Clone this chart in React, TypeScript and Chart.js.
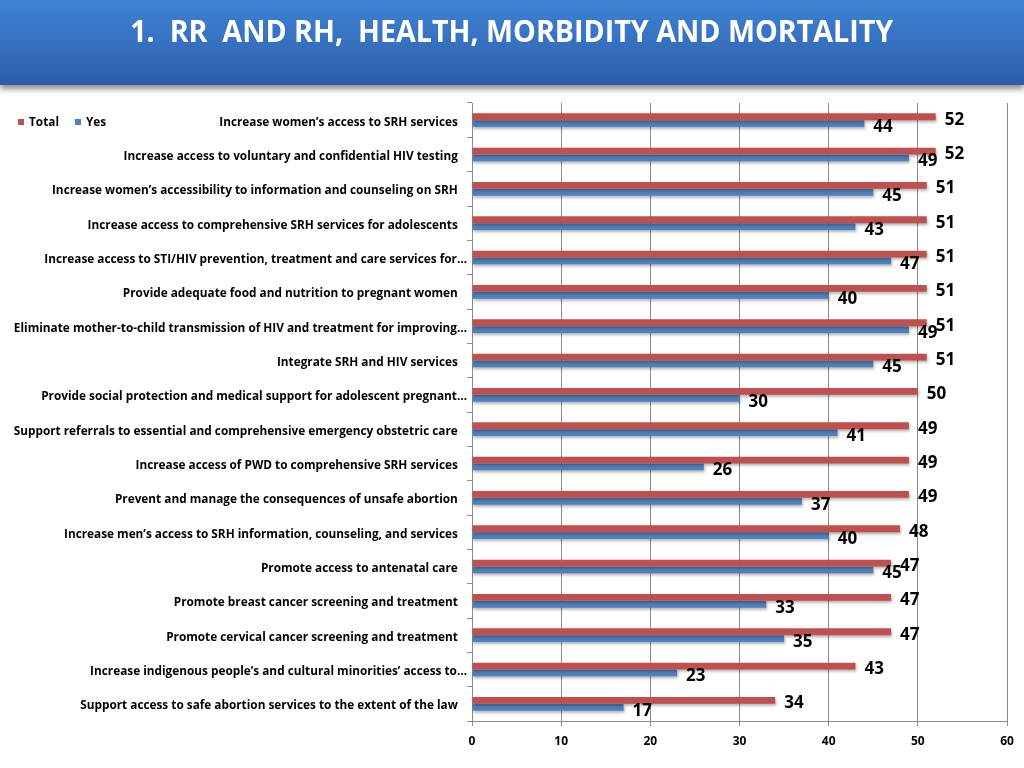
import React, { useEffect, useRef } from "react";
import { Chart, registerables } from "chart.js";

Chart.register(...registerables);

const categories: string[] = [
  "Increase women’s access to SRH services",
  "Increase access to voluntary and confidential HIV testing",
  "Increase women’s accessibility to information and counseling on SRH",
  "Increase access to comprehensive SRH services for adolescents",
  "Increase access to STI/HIV prevention, treatment and care services for…",
  "Provide adequate food and nutrition to pregnant women",
  "Eliminate mother-to-child transmission of HIV and treatment for improving…",
  "Integrate SRH and HIV services",
  "Provide social protection and medical support for adolescent pregnant…",
  "Support referrals to essential and comprehensive emergency obstetric care",
  "Increase access of PWD to comprehensive SRH services",
  "Prevent and manage the consequences of unsafe abortion",
  "Increase men’s access to SRH information, counseling, and services",
  "Promote access to antenatal care",
  "Promote breast cancer screening and treatment",
  "Promote cervical cancer screening and treatment",
  "Increase indigenous people’s and cultural minorities’ access to…",
  "Support access to safe abortion services to the extent of the law",
];

const totalValues: number[] = [52, 52, 51, 51, 51, 51, 51, 51, 50, 49, 49, 49, 48, 47, 47, 47, 43, 34];
const yesValues: number[] = [44, 49, 45, 43, 47, 40, 49, 45, 30, 41, 26, 37, 40, 45, 33, 35, 23, 17];

const xTicks: number[] = [0, 10, 20, 30, 40, 50, 60];

const TITLE = "1.  RR  AND RH,  HEALTH, MORBIDITY AND MORTALITY";

const RED = "#c0504d";
const BLUE = "#4f81bd";
const FONT = "'Open Sans', 'Liberation Sans', Arial, sans-serif";

const shadowPlugin = {
  id: "barShadow",
  beforeDatasetsDraw(chart: any) {
    const ctx = chart.ctx;
    ctx.save();
    ctx.shadowColor = "rgba(0,0,0,0.3)";
    ctx.shadowOffsetX = 1;
    ctx.shadowOffsetY = 2;
    ctx.shadowBlur = 3;
  },
  afterDatasetsDraw(chart: any) {
    chart.ctx.restore();
  },
};

const labelPlugin = {
  id: "valueLabels",
  afterDraw(chart: any) {
    const ctx = chart.ctx;
    ctx.save();
    ctx.fillStyle = "#000";
    ctx.font = `bold 17px ${FONT}`;
    ctx.textBaseline = "middle";
    ctx.textAlign = "left";
    chart.data.datasets.forEach((ds: any, di: number) => {
      const meta = chart.getDatasetMeta(di);
      meta.data.forEach((el: any, i: number) => {
        const v = ds.data[i];
        const dy = di === 0 ? 3 : 3.5;
        ctx.fillText(String(v), el.x + 9, el.y + dy);
      });
    });
    // legend
    ctx.font = `bold 11.8px ${FONT}`;
    const ly = 122 - 85;
    ctx.fillStyle = RED;
    ctx.fillRect(18, ly - 3, 6, 6);
    ctx.fillStyle = "#000";
    ctx.fillText("Total", 29, ly + 1);
    ctx.fillStyle = BLUE;
    ctx.fillRect(75, ly - 3, 6, 6);
    ctx.fillStyle = "#000";
    ctx.fillText("Yes", 86, ly + 1);
    ctx.restore();
  },
};

export default function App() {
  const ref = useRef<HTMLCanvasElement | null>(null);
  const titleRef = useRef<HTMLSpanElement | null>(null);

  useEffect(() => {
    const t = titleRef.current;
    if (t) {
      const w = t.getBoundingClientRect().width;
      if (w > 0) t.style.transform = `scaleX(${763 / w})`;
    }
  }, []);

  useEffect(() => {
    if (!ref.current) return;
    const chart = new Chart(ref.current, {
      type: "bar",
      data: {
        labels: categories,
        datasets: [
          {
            label: "Total",
            data: totalValues,
            backgroundColor: RED,
            categoryPercentage: 0.4,
            barPercentage: 1.0,
          },
          {
            label: "Yes",
            data: yesValues,
            backgroundColor: BLUE,
            categoryPercentage: 0.4,
            barPercentage: 1.0,
          },
        ],
      },
      options: {
        indexAxis: "y",
        animation: false,
        responsive: true,
        maintainAspectRatio: false,
        layout: { padding: { top: 18, right: 17, bottom: 17, left: 0 } },
        plugins: {
          legend: { display: false },
          tooltip: { enabled: false },
        },
        scales: {
          x: {
            min: xTicks[0],
            max: xTicks[xTicks.length - 1],
            afterBuildTicks(scale: any) {
              scale.ticks = xTicks.map((v) => ({ value: v }));
            },
            afterFit(scale: any) {
              scale.height = 30;
            },
            grid: { color: "#8c8c8c", lineWidth: 1, tickLength: 5 },
            border: { color: "#8c8c8c" },
            ticks: {
              color: "#000",
              padding: 8,
              font: { family: FONT, size: 12, weight: "bold" },
            },
          },
          y: {
            afterFit(scale: any) {
              scale.width = 472;
            },
            grid: { drawOnChartArea: false, offset: true, tickLength: 5, color: "#8c8c8c" },
            border: { color: "#8c8c8c" },
            ticks: {
              color: "#000",
              padding: 0,
              labelOffset: 2,
              autoSkip: false,
              font: { family: FONT, size: 11.8, weight: "bold" },
              callback(this: any, value: any) {
                const lbl = categories[value as number];
                return lbl.endsWith("…") ? lbl : lbl + "   ";
              },
            },
          },
        },
      },
      plugins: [shadowPlugin, labelPlugin],
    });
    return () => chart.destroy();
  }, []);

  return (
    <div style={{ position: "fixed", left: 0, top: 0, width: 1024, height: 768, background: "#fff", overflow: "hidden" }}>
      <div
        style={{
          position: "absolute",
          left: 0,
          top: 0,
          width: 1024,
          height: 85,
          background: "linear-gradient(to bottom, #3f82d2 0%, #3671c0 50%, #2c5ea7 100%)",
          boxShadow: "0 4px 6px rgba(0,0,0,0.45)",
          zIndex: 2,
        }}
      >
        <div
          style={{
            position: "absolute",
            left: 0,
            right: 0,
            top: 8,
            textAlign: "center",
            color: "#fff",
            fontFamily: "'Open Sans', 'Liberation Sans', sans-serif",
            fontWeight: "bold",
            fontSize: 31,
            whiteSpace: "pre",
            lineHeight: "44px",
          }}
        >
          <span ref={titleRef} style={{ display: "inline-block", transformOrigin: "center" }}>
            {TITLE}
          </span>
        </div>
      </div>
      <div style={{ position: "absolute", left: 0, top: 85, width: 1024, height: 683 }}>
        <canvas ref={ref} />
      </div>
    </div>
  );
}
